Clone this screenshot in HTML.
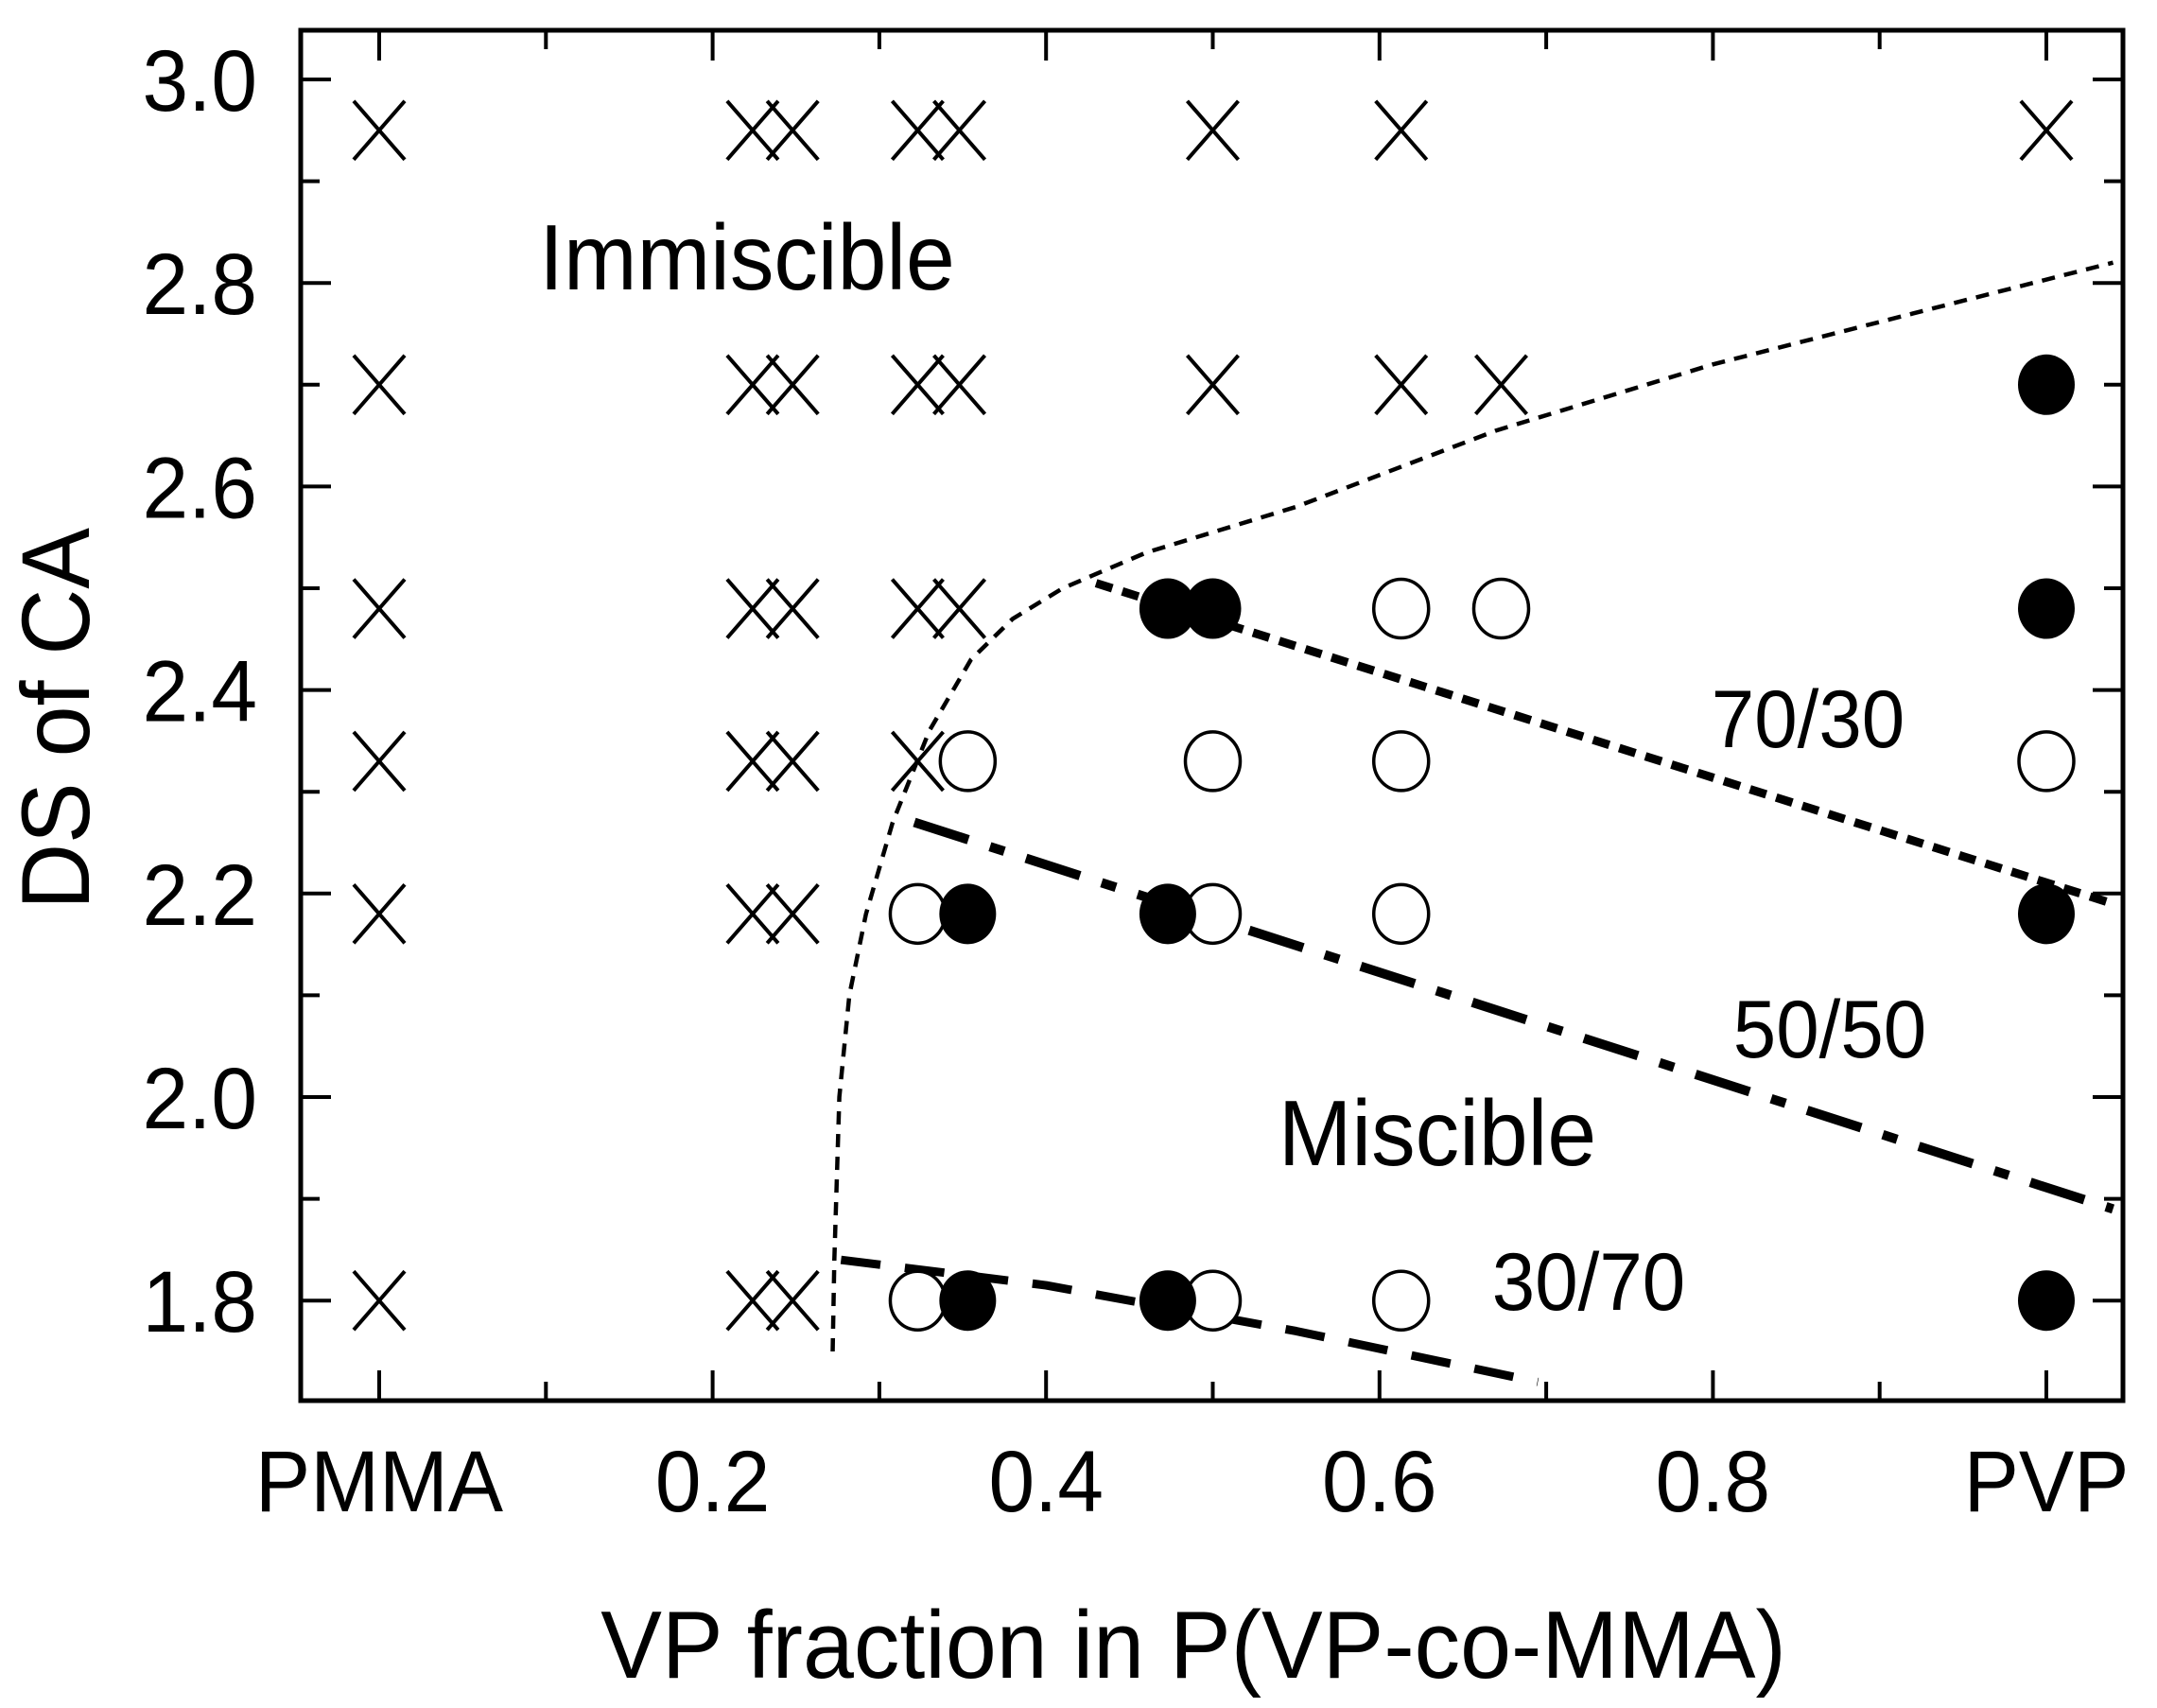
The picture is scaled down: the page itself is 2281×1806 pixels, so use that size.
<!DOCTYPE html>
<html><head><meta charset="utf-8"><style>
html,body{margin:0;padding:0;background:#fff;}
svg{display:block;font-family:"Liberation Sans",Arial,sans-serif;}
</style></head><body>
<svg id="chart" width="2281" height="1806" viewBox="0 0 2281 1806" xmlns="http://www.w3.org/2000/svg">
<g id="marks"></g>
<g id="axes"></g>
</svg>
<script>
// ---- data ----
const xTickVals = [0, 0.2, 0.4, 0.6, 0.8, 1.0];
const xTickLabels = ["PMMA", "0.2", "0.4", "0.6", "0.8", "PVP"];
const yTickVals = [1.8, 2.0, 2.2, 2.4, 2.6, 2.8, 3.0];
const yTickLabels = ["1.8", "2.0", "2.2", "2.4", "2.6", "2.8", "3.0"];
const crossX = [0,0.224,0.248,0.323,0.348,0.5,0.613,1.0, 0,0.224,0.248,0.323,0.348,0.5,0.613,0.673, 0,0.224,0.248,0.323,0.348, 0,0.224,0.248,0.323, 0,0.224,0.248, 0,0.224,0.248];
const crossY = [2.95,2.95,2.95,2.95,2.95,2.95,2.95,2.95, 2.70,2.70,2.70,2.70,2.70,2.70,2.70,2.70, 2.48,2.48,2.48,2.48,2.48, 2.33,2.33,2.33,2.33, 2.18,2.18,2.18, 1.80,1.80,1.80];
const filledX = [1.0, 0.473,0.5,1.0, 0.353,0.473,1.0, 0.353,0.473,1.0];
const filledY = [2.70, 2.48,2.48,2.48, 2.18,2.18,2.18, 1.80,1.80,1.80];
const openX = [0.613,0.673, 0.353,0.5,0.613,1.0, 0.323,0.5,0.613, 0.323,0.5,0.613];
const openY = [2.48,2.48, 2.33,2.33,2.33,2.33, 2.18,2.18,2.18, 1.80,1.80,1.80];
const boundaryX = [0.272,0.273,0.276,0.282,0.292,0.308,0.33,0.355,0.38,0.41,0.46,0.55,0.67,0.8,0.92,1.04];
const boundaryY = [1.75,1.84,2.0,2.1,2.18,2.27,2.36,2.43,2.47,2.50,2.535,2.58,2.655,2.72,2.77,2.82];
const l7030X = [0.43, 1.04];
const l7030Y = [2.505, 2.19];
const l5050X = [0.321, 1.04];
const l5050Y = [2.27, 1.89];
const l3070X = [0.277, 0.40, 0.55, 0.695];
const l3070Y = [1.84, 1.815, 1.77, 1.72];

// ---- axes functions ----
const X0 = 401, XS = 1763, Y0 = 84, YS = 1076;
const xs = v => X0 + v * XS;
const ys = v => Y0 + (3.0 - v) * YS;
const L = 318, R = 2245, T = 32, B = 1481;
const NS = "http://www.w3.org/2000/svg";
const marks = document.getElementById('marks');
const axes = document.getElementById('axes');
function mk(tag, attrs, parent) {
  const e = document.createElementNS(NS, tag);
  for (const k in attrs) e.setAttribute(k, attrs[k]);
  parent.appendChild(e);
  return e;
}
function poly(xa, ya, dash, w, name) {
  const pts = xa.map((x, i) => xs(x) + ',' + ys(ya[i])).join(' ');
  const p = mk('polyline', {points: pts, fill: 'none', stroke: '#000', 'stroke-width': w, 'stroke-dasharray': dash, 'stroke-linejoin': 'round'}, marks);
  
  
}
poly(boundaryX, boundaryY, '14 10', 4.5, 'miscibility-boundary-line');
poly(l7030X, l7030Y, '18 11', 9, 'line-70-30');
poly(l5050X, l5050Y, '60 24 16 24', 10, 'line-50-50');
poly(l3070X, l3070Y, '42 26', 9, 'line-30-70');

crossX.forEach((x, i) => {
  const cx = xs(x), cy = ys(crossY[i]);
  const g = mk('path', {d: `M${cx-27},${cy-31}L${cx+27},${cy+31}M${cx-27},${cy+31}L${cx+27},${cy-31}`, stroke: '#000', 'stroke-width': 4, fill: 'none'}, marks);
  
  
});
openX.forEach((x, i) => {
  const c = mk('ellipse', {cx: xs(x), cy: ys(openY[i]), rx: 29, ry: 31, fill: '#fff', stroke: '#000', 'stroke-width': 3.5}, marks);
  
  
});
filledX.forEach((x, i) => {
  const c = mk('ellipse', {cx: xs(x), cy: ys(filledY[i]), rx: 30, ry: 32, fill: '#000'}, marks);
  
  
});

// frame
const fr = mk('rect', {x: L, y: T, width: R - L, height: B - T, fill: 'none', stroke: '#000', 'stroke-width': 5}, axes);


for (let k = 0; k <= 10; k++) {
  const v = k / 10, x = xs(v), len = (k % 2 === 0) ? 32 : 20;
  const t = mk('path', {d: `M${x},${B}V${B-len}M${x},${T}V${T+len}`, stroke: '#000', 'stroke-width': 4}, axes);
  
  
}
function txt(s, x, y, size, anchor, sx, name, rot) {
  const tr = `translate(${x} ${y})` + (rot ? ' rotate(-90)' : '') + ` scale(${sx} 1)`;
  const t = mk('text', {x: 0, y: 0, 'text-anchor': anchor, 'font-size': size, transform: tr}, axes);
  t.textContent = s;
  
  
}
xTickVals.forEach((v, i) => txt(xTickLabels[i], xs(v), 1598, 92, 'middle', 0.95, 'x-tick-label'));
for (let k = 17; k <= 30; k++) {
  const v = k / 10, y = ys(v), len = (k % 2 === 0) ? 32 : 20;
  if (y < T || y > B) continue;
  const t = mk('path', {d: `M${L},${y}H${L+len}M${R},${y}H${R-len}`, stroke: '#000', 'stroke-width': 4}, axes);
  
  
}
yTickVals.forEach((v, i) => txt(yTickLabels[i], 272, ys(v) + 33, 92, 'end', 0.95, 'y-tick-label'));
txt('Immiscible', 790, 306, 98, 'middle', 0.95, 'immiscible-label');
txt('Miscible', 1520, 1232, 98, 'middle', 0.95, 'miscible-label');
txt('70/30', 1912, 790, 86, 'middle', 0.95, 'label-70-30');
txt('50/50', 1935, 1118, 86, 'middle', 0.95, 'label-50-50');
txt('30/70', 1680, 1385, 86, 'middle', 0.95, 'label-30-70');
txt('VP fraction in P(VP-co-MMA)', 1262, 1774, 101, 'middle', 0.96, 'x-axis-title');
txt('DS of CA', 94, 760, 102, 'middle', 0.95, 'y-axis-title', true);
</script>
</body></html>
